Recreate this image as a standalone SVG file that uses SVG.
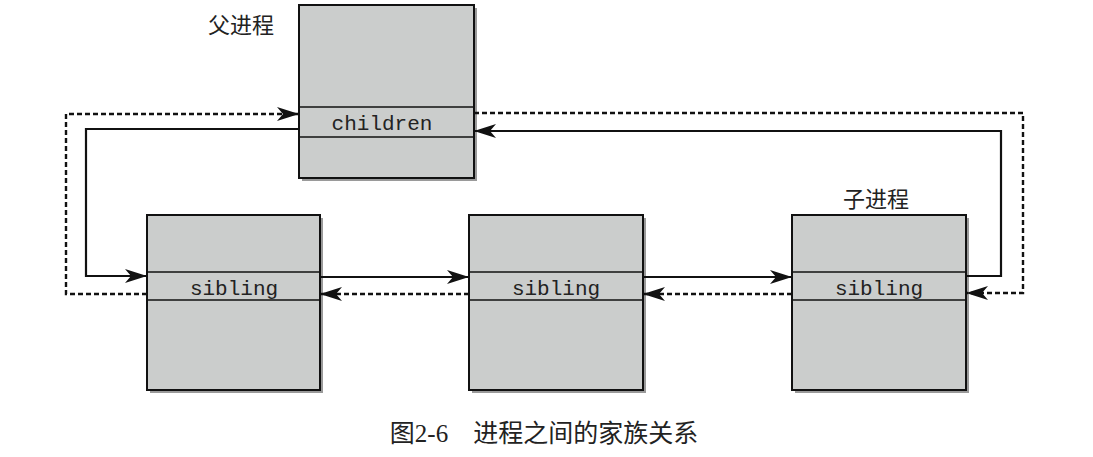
<svg xmlns="http://www.w3.org/2000/svg" width="1093" height="457" viewBox="0 0 1093 457">
<style>
.box{fill:#cbcdcc;stroke:#111;stroke-width:2}
.sh{fill:#9a9a9a}
.sep{stroke:#111;stroke-width:1.6}
.mono{font-family:"Liberation Mono",monospace;font-size:21px;fill:#222;text-anchor:middle}
.cjk{font-family:"Liberation Serif","Noto Sans CJK SC",serif;font-size:22px;fill:#222;text-anchor:middle}
.s{fill:none;stroke:#111;stroke-width:2.2}
.d{fill:none;stroke:#111;stroke-width:2.4;stroke-dasharray:5,3}
</style>
<defs>
<marker id="a" viewBox="0 0 22 14" refX="22" refY="7" markerWidth="22" markerHeight="14" markerUnits="userSpaceOnUse" orient="auto">
<path d="M0,0 L22,7 L0,14 L6,7 Z" fill="#111"/>
</marker>
</defs>
<g id="parent">
<rect class="sh" x="302" y="8" width="175" height="173"/>
<rect class="box" x="299" y="5" width="175" height="173"/>
<line class="sep" x1="299" y1="107" x2="474" y2="107"/>
<line class="sep" x1="299" y1="137" x2="474" y2="137"/>
<text class="mono" x="382" y="130">children</text>
<text class="cjk" x="241" y="33">父进程</text>
</g>
<g id="sib1">
<rect class="sh" x="150" y="218" width="173" height="175"/>
<rect class="box" x="147" y="215" width="173" height="175"/>
<line class="sep" x1="147" y1="272" x2="320" y2="272"/>
<line class="sep" x1="147" y1="300" x2="320" y2="300"/>
<text class="mono" x="234" y="295">sibling</text>
</g>
<g id="sib2">
<rect class="sh" x="472" y="218" width="174" height="175"/>
<rect class="box" x="469" y="215" width="174" height="175"/>
<line class="sep" x1="469" y1="272" x2="643" y2="272"/>
<line class="sep" x1="469" y1="300" x2="643" y2="300"/>
<text class="mono" x="556" y="295">sibling</text>
</g>
<g id="sib3">
<rect class="sh" x="795" y="218" width="174" height="175"/>
<rect class="box" x="792" y="215" width="174" height="175"/>
<line class="sep" x1="792" y1="272" x2="966" y2="272"/>
<line class="sep" x1="792" y1="300" x2="966" y2="300"/>
<text class="mono" x="879" y="295">sibling</text>
<text class="cjk" x="876" y="207">子进程</text>
</g>
<g id="connectors">
<path class="s" d="M299,129 H86 V276 H147" marker-end="url(#a)"/>
<path class="d" d="M147,294 H66 V114 H299" marker-end="url(#a)"/>
<path class="s" d="M966,276 H1001 V131 H474" marker-end="url(#a)"/>
<path class="d" d="M474,113 H1023 V293 H966" marker-end="url(#a)"/>
<path class="s" d="M320,277 H469" marker-end="url(#a)"/>
<path class="s" d="M643,277 H792" marker-end="url(#a)"/>
<path class="d" d="M469,294 H320" marker-end="url(#a)"/>
<path class="d" d="M792,294 H643" marker-end="url(#a)"/>
</g>
<text class="cjk" x="544" y="442" style="font-size:25px">图2-6　进程之间的家族关系</text>
</svg>
